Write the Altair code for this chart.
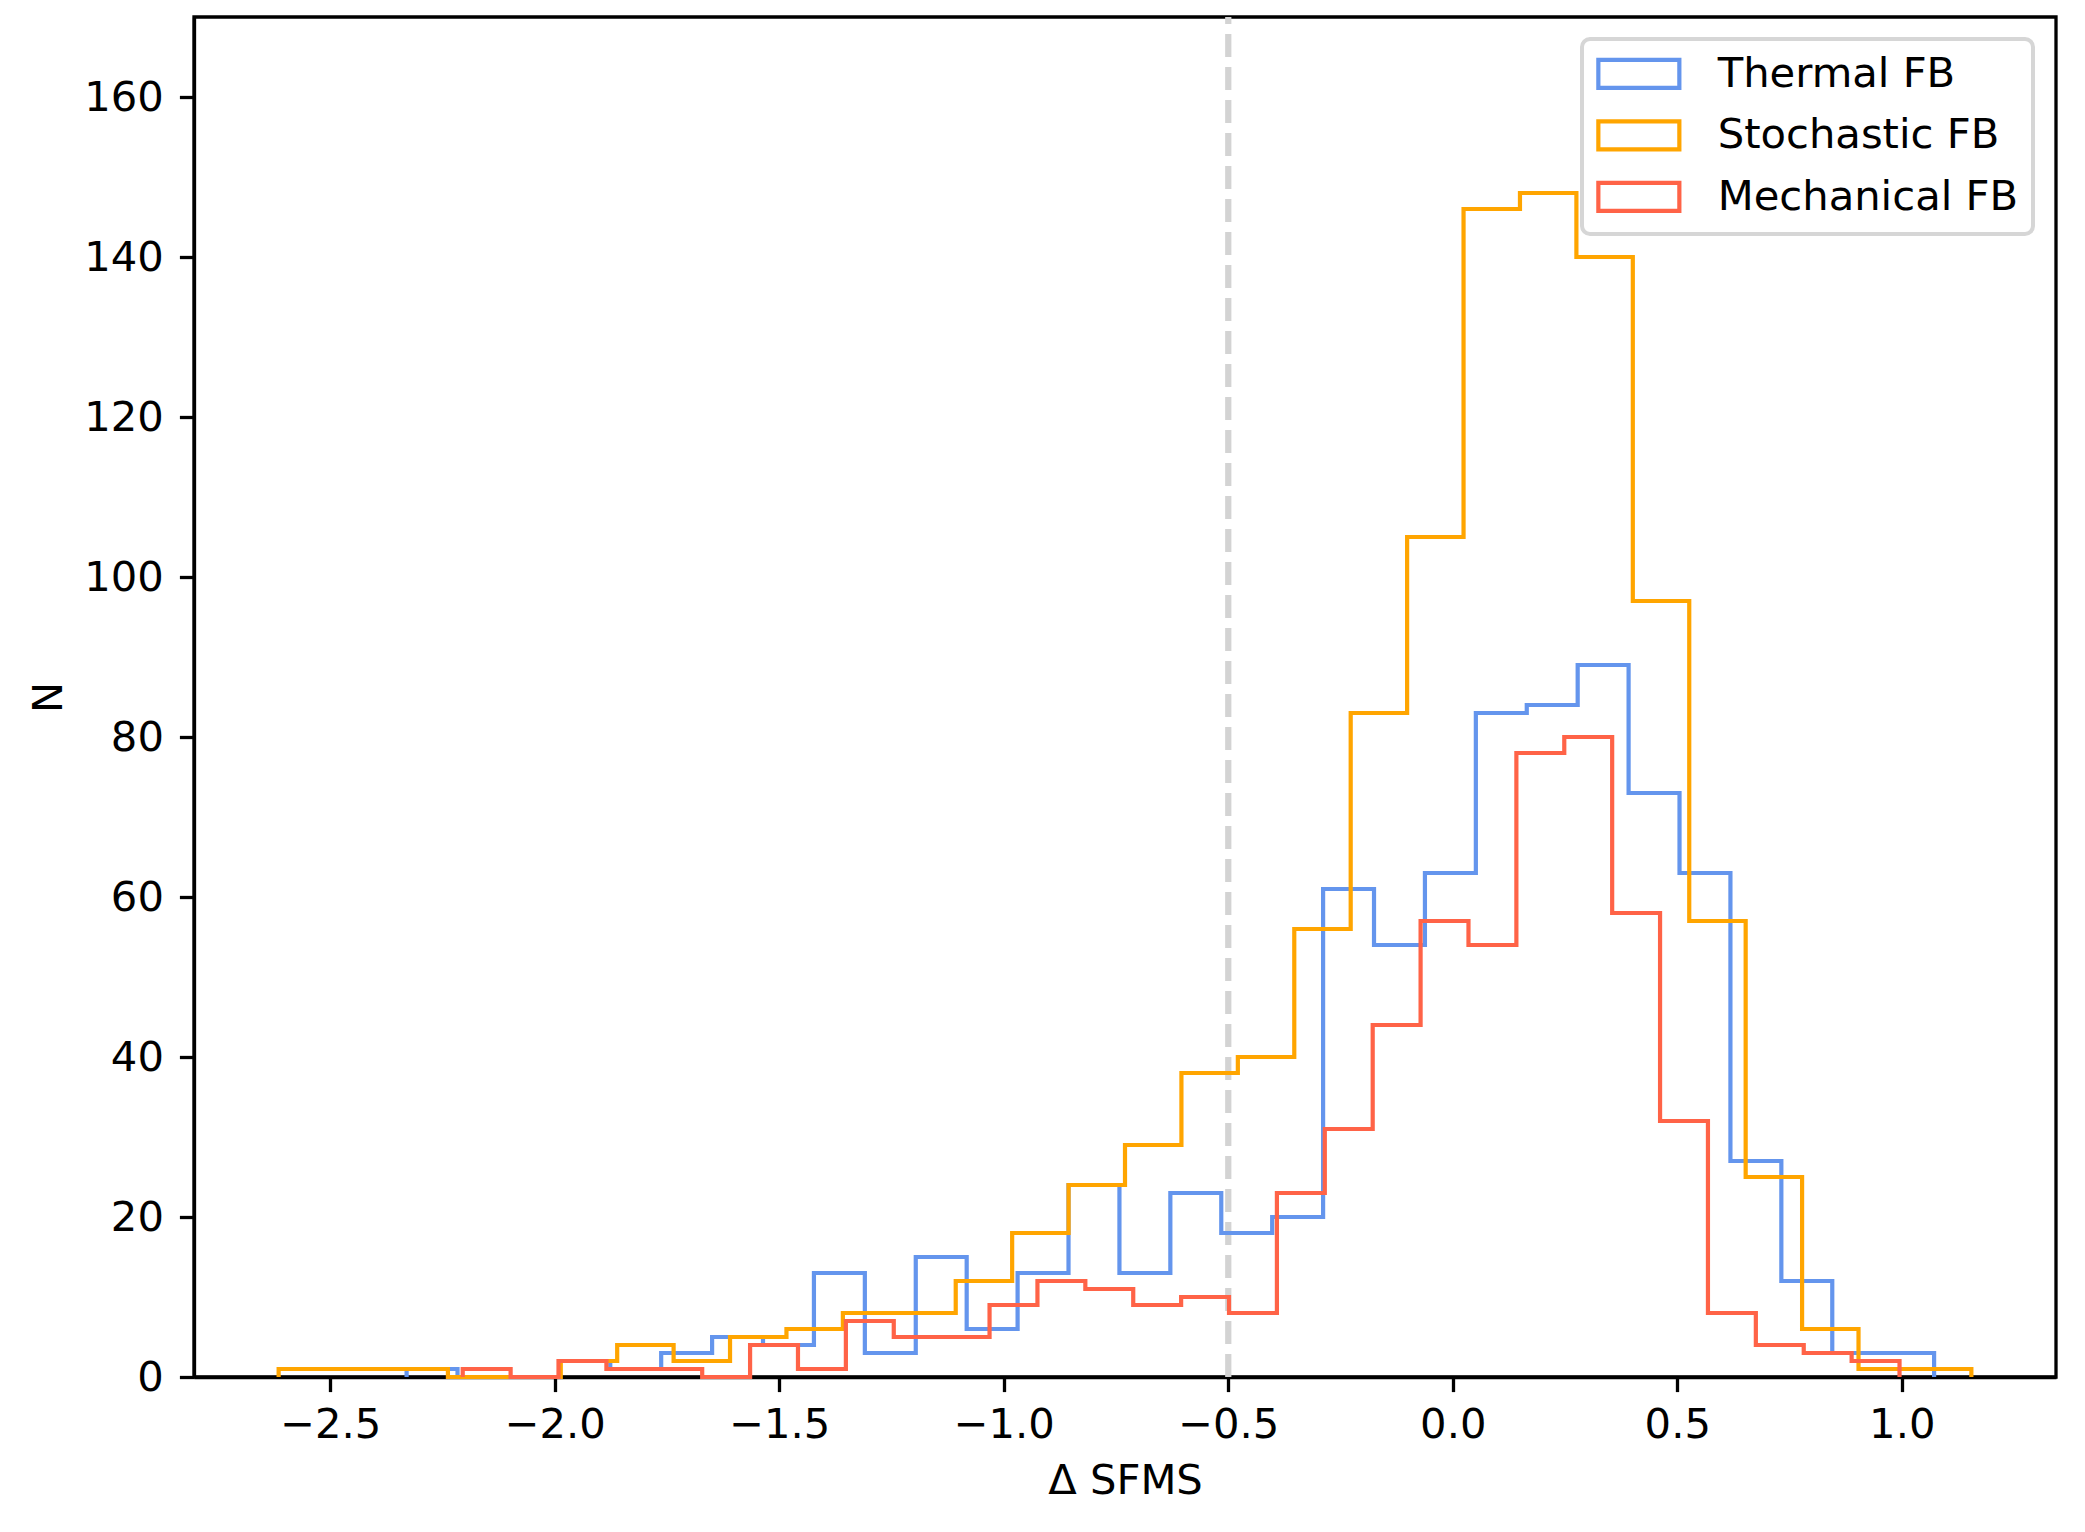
import altair as alt
import numpy as np
import pandas as pd

# ---- data ----
series_names = ["Thermal FB", "Stochastic FB", "Mechanical FB"]
series_colors = ["#6495ED", "#FFA500", "#FF6347"]

thermal_range = (-2.330, 1.072)
stochastic_range = (-2.615, 1.155)
mechanical_range = (-2.205, 0.995)

thermal_counts = [1, 0, 0, 2, 1, 3, 5, 4, 13, 3, 15, 6, 13, 24, 13, 23, 18, 20,
                  61, 54, 63, 83, 84, 89, 73, 63, 27, 12, 3, 3]
stochastic_counts = [1, 1, 1, 0, 0, 2, 4, 2, 5, 6, 8, 8, 12, 18, 24, 29, 38, 40,
                     56, 83, 105, 146, 148, 140, 97, 57, 25, 6, 1, 1]
mechanical_counts = [1, 0, 2, 1, 1, 0, 4, 1, 7, 5, 5, 9, 12, 11, 9, 10, 8, 23,
                     31, 44, 57, 54, 78, 80, 58, 32, 8, 4, 3, 2]

x_ticks = [-2.5, -2.0, -1.5, -1.0, -0.5, 0.0, 0.5, 1.0]
y_ticks = [0, 20, 40, 60, 80, 100, 120, 140, 160]
threshold = [-0.5]


def step_outline(name, rng, counts):
    edges = np.linspace(rng[0], rng[1], len(counts) + 1)
    xs, ys = [edges[0]], [0]
    for k, c in enumerate(counts):
        xs += [edges[k], edges[k + 1]]
        ys += [c, c]
    xs.append(edges[-1])
    ys.append(0)
    return pd.DataFrame({"x": xs, "y": ys, "i": range(len(xs)), "series": name})


frames = [
    step_outline(series_names[0], thermal_range, thermal_counts),
    step_outline(series_names[1], stochastic_range, stochastic_counts),
    step_outline(series_names[2], mechanical_range, mechanical_counts),
]

W, H = 1862, 1360
FS = 41.7
FONT = "DejaVu Sans"

xscale = alt.Scale(domain=[-2.8035, 1.3435], nice=False, zero=False)
yscale = alt.Scale(domain=[0, 170], nice=False)
cscale = alt.Scale(domain=series_names, range=series_colors)

x_axis = alt.Axis(values=x_ticks, format=".1f", title="Δ SFMS",
                  labelPadding=13, titlePadding=14)
y_axis = alt.Axis(values=y_ticks, format="d", title="N",
                  labelPadding=16, titlePadding=13)

legend = alt.Legend(
    title=None, orient="none", legendX=1388, legendY=22,
    symbolType="M-2.7,-0.93H2.7V0.93H-2.7Z", symbolSize=900,
    symbolStrokeWidth=4.2, symbolFillColor="transparent",
    symbolOffset=22, labelOffset=58,
    labelFont=FONT, labelFontSize=FS, labelColor="black", labelLimit=0,
    rowPadding=15.5, padding=14, fillColor="white",
    strokeColor="#d6d6d6", cornerRadius=8,
)

layers = []
for df in frames:
    line = alt.Chart(df).mark_line(
        strokeWidth=4.2, strokeJoin="miter", strokeCap="butt", interpolate="linear"
    ).encode(
        x=alt.X("x:Q", scale=xscale, axis=x_axis),
        y=alt.Y("y:Q", scale=yscale, axis=y_axis),
        order=alt.Order("i:Q"),
        color=alt.Color("series:N", scale=cscale, legend=legend),
    )
    layers.append(line)

thr_df = pd.DataFrame({"x": threshold})
vline = alt.Chart(thr_df).mark_rule(
    color="#D3D3D3", strokeWidth=6.25, strokeDash=[23, 10], strokeCap="butt"
).encode(
    x=alt.X("x:Q", scale=xscale, axis=x_axis),
    y=alt.value(H),
    y2=alt.value(0),
)

chart = alt.layer(vline, *layers).properties(
    width=W, height=H,
    padding={"left": 186, "top": 9, "right": 10, "bottom": 130},
    autosize=alt.AutoSizeParams(type="none"),
).configure_view(
    stroke="black", strokeWidth=3.3
).configure_axis(
    grid=False, domainColor="black", domainWidth=3.3,
    tickColor="black", tickWidth=3.3, tickSize=14.6,
    labelFont=FONT, labelFontSize=FS, labelColor="black",
    titleFont=FONT, titleFontSize=FS, titleColor="black", titleFontWeight="normal",
).configure_legend(
    strokeWidth=4
)

chart.save("out.html", embed_options={"renderer": "svg", "actions": False})
